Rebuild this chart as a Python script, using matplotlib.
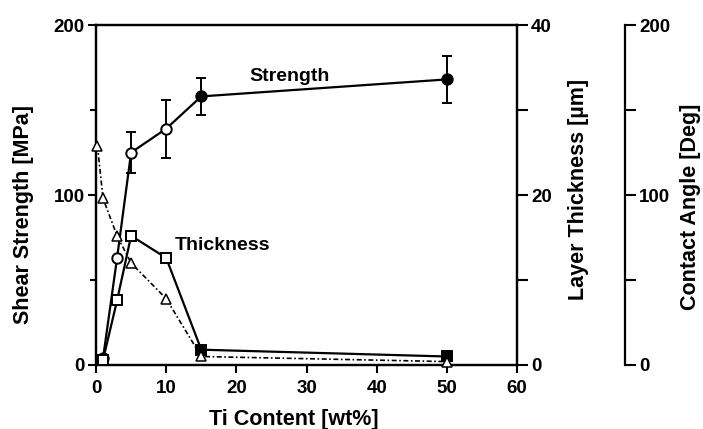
import matplotlib
matplotlib.use("Agg")
import matplotlib.pyplot as plt
from matplotlib.ticker import MultipleLocator

plt.rcParams['font.family'] = ['Liberation Sans', 'DejaVu Sans']
plt.rcParams['font.weight'] = 'bold'

# Data
strength_x = [1, 3, 5, 10, 15, 50]
strength_y = [4, 63, 125, 139, 158, 168]
strength_err = [0, 0, 12, 17, 11, 14]
strength_filled = [False, False, False, False, True, True]

thick_x = [1, 3, 5, 10, 15, 50]
thick_y = [0.6, 7.6, 15.2, 12.6, 1.8, 1.0]
thick_filled = [False, False, False, False, True, True]

angle_x = [0.2, 1, 3, 5, 10, 15, 50]
angle_y = [129, 98, 76, 60, 39, 5, 2]

x_ticks = [0, 10, 20, 30, 40, 50, 60]
left_ticks = [0, 100, 200]
right_ticks = [0, 20, 40]
angle_ticks = [0, 100, 200]

TICK_FS = 13.5
LAB_FS = 15.5
ANN_FS = 14

fig = plt.figure(figsize=(7.03, 4.29), dpi=100)
ax = fig.add_axes([0.1366, 0.1492, 0.5988, 0.7925])
ax2 = ax.twinx()
ax3 = ax.twinx()

lw_sp = 1.6
for a in (ax, ax2, ax3):
    for s in a.spines.values():
        s.set_linewidth(lw_sp)
    a.patch.set_visible(False)

# Main axis
ax.set_xlim(0, 60)
ax.set_ylim(0, 200)
ax.set_xticks(x_ticks)
ax.set_yticks(left_ticks)
ax.yaxis.set_minor_locator(MultipleLocator(50))
ax.tick_params(axis='both', which='major', direction='out', length=6, width=1.5,
               labelsize=TICK_FS, pad=2)
ax.tick_params(axis='x', which='major', pad=5)
ax.tick_params(axis='y', which='minor', direction='out', length=4, width=1.5)
ax.set_xlabel('Ti Content [wt%]', fontsize=LAB_FS, fontweight='bold')
ax.xaxis.set_label_coords(0.469, -0.128)
ax.set_ylabel('Shear Strength [MPa]', fontsize=LAB_FS, fontweight='bold')
ax.yaxis.set_label_coords(-0.148, 0.444)

# Strength line
ax.plot(strength_x, strength_y, color='black', lw=1.6, zorder=3)
for xi, yi, ei, f in zip(strength_x, strength_y, strength_err, strength_filled):
    if ei > 0:
        ax.errorbar([xi], [yi], yerr=[ei], fmt='none', ecolor='black', elinewidth=1.4,
                    capsize=3.5, capthick=1.4, zorder=3)
    ax.plot([xi], [yi], marker='o', ms=7.5, mec='black', mew=1.4,
            mfc='black' if f else 'white', ls='none', zorder=4, clip_on=False)
ax.text(27.6, 170, 'Strength', fontsize=ANN_FS, fontweight='bold', ha='center', va='center')

# Thickness axis
ax2.set_ylim(0, 40)
ax2.set_yticks(right_ticks)
ax2.yaxis.set_minor_locator(MultipleLocator(10))
ax2.tick_params(axis='y', which='major', direction='out', length=8, width=1.5,
                labelsize=TICK_FS, pad=2)
ax2.tick_params(axis='y', which='minor', direction='out', length=8, width=1.5)
ax2.set_ylabel('Layer Thickness [µm]', fontsize=LAB_FS, fontweight='bold')
ax2.yaxis.set_label_coords(1.121, 0.515)
ax2.plot(thick_x, thick_y, color='black', lw=1.6, zorder=3)
for xi, yi, f in zip(thick_x, thick_y, thick_filled):
    ax2.plot([xi], [yi], marker='s', ms=7.5, mec='black', mew=1.4,
             mfc='black' if f else 'white', ls='none', zorder=4, clip_on=False)
ax2.text(18.0, 14.1, 'Thickness', fontsize=ANN_FS, fontweight='bold', ha='center', va='center')

# Contact angle axis
for k in ('top', 'bottom', 'left'):
    ax3.spines[k].set_visible(False)
ax3.spines['right'].set_position(('axes', 1.257))
ax3.set_ylim(0, 200)
ax3.set_yticks(angle_ticks)
ax3.yaxis.set_minor_locator(MultipleLocator(50))
ax3.tick_params(axis='y', which='major', direction='out', length=8, width=1.5,
                labelsize=TICK_FS, pad=2)
ax3.tick_params(axis='y', which='minor', direction='out', length=8, width=1.5)
ax3.set_ylabel('Contact Angle [Deg]', fontsize=LAB_FS, fontweight='bold')
ax3.yaxis.set_label_coords(1.388, 0.465)
ax3.plot(angle_x, angle_y, color='black', lw=1.2, ls=(0, (3, 1.5, 1, 1.5)), zorder=2,
         clip_on=False)
ax3.plot(angle_x, angle_y, marker='^', ms=6.5, mec='black', mew=1.1, mfc='white',
         ls='none', zorder=2.5, clip_on=False)

fig.savefig('out.png', dpi=100)
